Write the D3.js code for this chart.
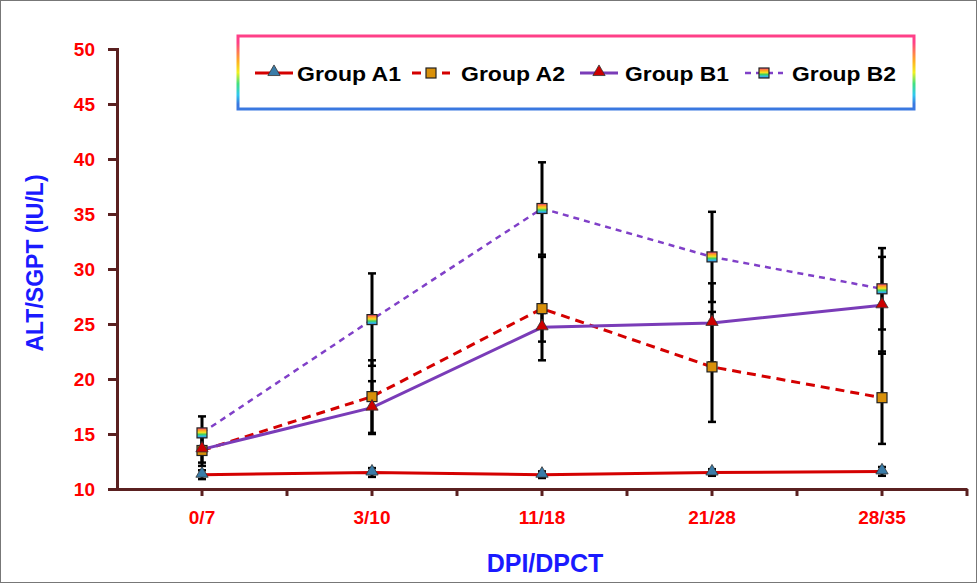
<!DOCTYPE html>
<html>
<head>
<meta charset="utf-8">
<script src="https://cdn.jsdelivr.net/npm/d3@7"></script>
<style>
body { margin: 0; background: #fff; }
text { font-family: "Liberation Sans", Arial, sans-serif; font-weight: bold; }
</style>
</head>
<body>
<script>
//categories and tick labels
var categories = ["0/7", "3/10", "11/18", "21/28", "28/35"];
var yTicks = [10, 15, 20, 25, 30, 35, 40, 45, 50];

//series means
var groupA1 = [11.3, 11.5, 11.3, 11.5, 11.6];
var groupA2 = [13.5, 18.4, 26.4, 21.1, 18.3];
var groupB1 = [13.6, 17.4, 24.7, 25.1, 26.7];
var groupB2 = [15.1, 25.4, 35.5, 31.1, 28.2];

//standard deviations (error bars)
var sdA1 = [0.4, 0.4, 0.3, 0.3, 0.4];
var sdA2 = [1.4, 3.3, 4.7, 5.0, 4.2];
var sdB1 = [1.2, 2.4, 1.3, 3.6, 4.4];
var sdB2 = [1.5, 4.2, 4.2, 4.1, 3.7];

var names = ["Group A1", "Group A2", "Group B1", "Group B2"];

var width = 977, height = 583;

var svg = d3.select("body").append("svg")
    .attr("width", width)
    .attr("height", height);

//gradients
var defs = svg.append("defs");
var rainbow = defs.append("linearGradient")
    .attr("id", "rainbow")
    .attr("x1", 0).attr("y1", 0).attr("x2", 0).attr("y2", 1);
[["0%", "#ff4080"], ["25%", "#ffa020"], ["45%", "#f0e020"], ["65%", "#40d060"], ["82%", "#30c0e0"], ["100%", "#3a70e0"]]
    .forEach(function(s){ rainbow.append("stop").attr("offset", s[0]).attr("stop-color", s[1]); });
var boxGrad = defs.append("linearGradient")
    .attr("id", "boxgrad")
    .attr("gradientUnits", "userSpaceOnUse")
    .attr("x1", 0).attr("y1", 35).attr("x2", 0).attr("y2", 110);
[["0%", "#ff4088"], ["10%", "#ff4088"], ["35%", "#ffb020"], ["50%", "#f0f020"], ["65%", "#40e080"], ["80%", "#30c8f0"], ["92%", "#3a78e0"], ["100%", "#3a78e0"]]
    .forEach(function(s){ boxGrad.append("stop").attr("offset", s[0]).attr("stop-color", s[1]); });

//outer frame
svg.append("rect")
    .attr("x", 0.5).attr("y", 0.5)
    .attr("width", width - 1).attr("height", height - 1)
    .style("fill", "none")
    .style("stroke", "#777")
    .style("stroke-width", 1);

//scales
var x = d3.scaleBand()
    .domain(categories)
    .range([117, 967]);

var y = d3.scaleLinear()
    .domain([10, 50])
    .range([489, 49]);

var axisColor = "#5a2020";

//y axis
var yAxis = svg.append("g")
    .attr("transform", "translate(117,0)")
    .call(d3.axisLeft(y).tickValues(yTicks).tickSize(9).tickPadding(13));
yAxis.select(".domain").style("stroke", axisColor).style("stroke-width", 3);
yAxis.selectAll(".tick line").style("stroke", axisColor).style("stroke-width", 3);
yAxis.selectAll(".tick text")
    .style("fill", "#ff0000")
    .style("font-size", "19px")
    .style("font-weight", "bold")
    .style("font-family", "Liberation Sans, Arial, sans-serif");

//x axis: ticks at band centres and band edges
var xAxis = svg.append("g")
    .attr("transform", "translate(0,489)")
    .call(d3.axisBottom(x).tickSize(0).tickPadding(22));
xAxis.select(".domain").style("stroke", axisColor).style("stroke-width", 3);
xAxis.selectAll(".tick text")
    .style("fill", "#ff0000")
    .style("font-size", "19px")
    .style("font-weight", "bold")
    .style("font-family", "Liberation Sans, Arial, sans-serif");

var xTickPos = [];
categories.forEach(function(c, i){
    xTickPos.push(x(c) + x.bandwidth() / 2);
    xTickPos.push(x(c) + x.bandwidth());
});
svg.selectAll(".xtick")
    .data(xTickPos)
    .enter()
    .append("line")
    .attr("class", "xtick")
    .attr("x1", function(d){ return d; })
    .attr("x2", function(d){ return d; })
    .attr("y1", 489)
    .attr("y2", 496)
    .style("stroke", axisColor)
    .style("stroke-width", 3);

//axis titles
svg.append("text")
    .attr("transform", "translate(43,263) rotate(-90)")
    .attr("text-anchor", "middle")
    .style("fill", "#1a1aff")
    .style("font-size", "23px")
    .text("ALT/SGPT (IU/L)");

svg.append("text")
    .attr("x", 545)
    .attr("y", 572)
    .attr("text-anchor", "middle")
    .style("fill", "#1a1aff")
    .style("font-size", "25px")
    .text("DPI/DPCT");

//series definitions
var series = [
    {name: names[0], values: groupA1, sd: sdA1, color: "#d40000", width: 3, dash: null, marker: "triangle", fill: "#3a7ca8"},
    {name: names[1], values: groupA2, sd: sdA2, color: "#d40000", width: 3, dash: "9,6", marker: "square", fill: "#d8900a"},
    {name: names[2], values: groupB1, sd: sdB1, color: "#7a3cb8", width: 3, dash: null, marker: "triangle", fill: "#cc0000"},
    {name: names[3], values: groupB2, sd: sdB2, color: "#8040c8", width: 2.5, dash: "6,5", marker: "square", fill: "url(#rainbow)"}
];

var cx = function(i){ return x(categories[i]) + x.bandwidth() / 2; };

var line = d3.line()
    .x(function(d, i){ return cx(i); })
    .y(function(d){ return y(d); });

//lines
series.forEach(function(s){
    svg.append("path")
        .datum(s.values)
        .attr("d", line)
        .style("fill", "none")
        .style("stroke", s.color)
        .style("stroke-width", s.width)
        .style("stroke-dasharray", s.dash);
});

//error bars
series.forEach(function(s){
    var g = svg.append("g").attr("class", "err");
    s.values.forEach(function(v, i){
        var lo = y(v - s.sd[i]), hi = y(v + s.sd[i]);
        g.append("line")
            .attr("x1", cx(i)).attr("x2", cx(i))
            .attr("y1", lo).attr("y2", hi)
            .style("stroke", "#000").style("stroke-width", 3);
        [lo, hi].forEach(function(yy){
            g.append("line")
                .attr("x1", cx(i) - 4).attr("x2", cx(i) + 4)
                .attr("y1", yy).attr("y2", yy)
                .style("stroke", "#000").style("stroke-width", 2.5);
        });
    });
});

//markers
var triangle = d3.symbol().type(d3.symbolTriangle).size(65);
function drawMarker(g, s, px, py){
    if (s.marker == "triangle") {
        g.append("path")
            .attr("d", triangle)
            .attr("transform", "translate(" + px + "," + (py - 1) + ")")
            .style("fill", s.fill)
            .style("stroke", "#333")
            .style("stroke-width", 0.8);
    } else {
        g.append("rect")
            .attr("x", px - 5).attr("y", py - 5)
            .attr("width", 10).attr("height", 10)
            .style("fill", s.fill)
            .style("stroke", "#222")
            .style("stroke-width", 1.2);
    }
}

series.forEach(function(s){
    var g = svg.append("g");
    s.values.forEach(function(v, i){
        drawMarker(g, s, cx(i), y(v));
    });
});

//legend
svg.append("rect")
    .attr("x", 238).attr("y", 36)
    .attr("width", 676).attr("height", 73)
    .style("fill", "#fff")
    .style("stroke", "url(#boxgrad)")
    .style("stroke-width", 3);

var legendX = [255, 412, 580, 745];
var legendTextX = [297, 461, 625, 792];
series.forEach(function(s, i){
    var lx = legendX[i], ly = 73;
    svg.append("line")
        .attr("x1", lx).attr("x2", lx + 38)
        .attr("y1", ly).attr("y2", ly)
        .style("stroke", s.color)
        .style("stroke-width", s.width)
        .style("stroke-dasharray", s.dash ? (i == 1 ? "9,6" : "6,5") : null);
    drawMarker(svg, s, lx + 19, ly);
    svg.append("text")
        .attr("x", legendTextX[i])
        .attr("y", ly + 8)
        .attr("textLength", 104)
        .attr("lengthAdjust", "spacingAndGlyphs")
        .style("fill", "#000")
        .style("font-size", "21px")
        .text(s.name);
});
</script>
</body>
</html>
